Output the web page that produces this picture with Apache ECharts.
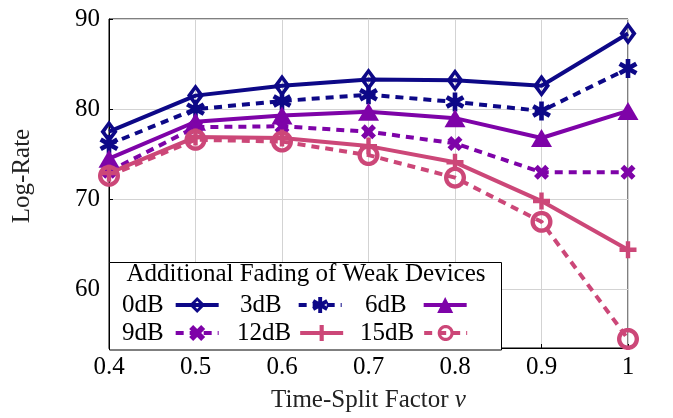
<!DOCTYPE html>
<html>
<head>
<meta charset="utf-8">
<script src="https://cdn.jsdelivr.net/npm/echarts@6/dist/echarts.min.js"></script>
<style>
  html, body { margin: 0; padding: 0; background: #fff; }
  #chart { width: 673px; height: 418px; }
</style>
</head>
<body>
<div id="chart"></div>
<script>
// Time-split factor values (x axis)
const splitFactors = [0.4, 0.5, 0.6, 0.7, 0.8, 0.9, 1];

// Log-rate for each additional fading level of the weak devices
const fade0dB  = [77.5, 81.5, 82.6, 83.3, 83.2, 82.6, 88.4];
const fade3dB  = [76.1, 80.0, 80.9, 81.6, 80.8, 79.8, 84.5];
const fade6dB  = [74.5, 78.6, 79.3, 79.7, 79.0, 76.8, 79.8];
const fade9dB  = [73.1, 78.0, 78.1, 77.5, 76.2, 73.0, 73.0];
const fade12dB = [72.9, 76.9, 76.8, 75.9, 74.1, 69.8, 64.4];
const fade15dB = [72.6, 76.6, 76.4, 74.9, 72.4, 67.5, 54.5];

const seriesNames = ['0dB', '3dB', '6dB', '9dB', '12dB', '15dB'];
const legendTitle = 'Additional Fading of Weak Devices';
const xAxisTitle = 'Time-Split Factor ';
const yAxisTitle = 'Log-Rate';

const NAVY = '#0d0887';
const PURPLE = '#7e03a8';
const PINK = '#cc4778';
const FONT = '"Liberation Serif", "Times New Roman", serif';
const FS = 25;
const LW = 4;

function polyString(pts) {
  return 'M' + pts.map(function (p) { return p[0].toFixed(2) + ' ' + p[1].toFixed(2); }).join(' L') + ' Z';
}

function signedArea(pts) {
  let area = 0;
  for (let k = 0; k < pts.length; k++) {
    const p = pts[k], q = pts[(k + 1) % pts.length];
    area += p[0] * q[1] - q[0] * p[1];
  }
  return area;
}

// Six-armed asterisk built from three rotated bars
function asteriskPath(halfWidth) {
  const parts = [];
  [90, 30, -30].forEach(function (deg) {
    const a = deg * Math.PI / 180;
    const dx = Math.cos(a) * 50, dy = Math.sin(a) * 50;
    const nx = -Math.sin(a) * halfWidth, ny = Math.cos(a) * halfWidth;
    let pts = [
      [50 + dx + nx, 50 + dy + ny],
      [50 + dx - nx, 50 + dy - ny],
      [50 - dx - nx, 50 - dy - ny],
      [50 - dx + nx, 50 - dy + ny]
    ];
    // keep a consistent winding so the overlaps stay filled
    if (signedArea(pts) < 0) pts = pts.reverse();
    parts.push(polyString(pts));
  });
  return 'path://' + parts.join(' ');
}

// Open outline: outer contour one way, inner contour the other way
function ringPath(outer, inner) {
  let o = outer.slice(), i = inner.slice();
  if (signedArea(o) < 0) o = o.reverse();
  if (signedArea(i) > 0) i = i.reverse();
  return 'path://' + polyString(o) + ' ' + polyString(i);
}

function circlePoints(r, n) {
  const pts = [];
  for (let k = 0; k < n; k++) {
    const a = 2 * Math.PI * k / n;
    pts.push([50 + r * Math.cos(a), 50 + r * Math.sin(a)]);
  }
  return pts;
}

const DIAMOND_RING = ringPath(
  [[50, 0], [100, 50], [50, 100], [0, 50]],
  [[50, 25], [72, 50], [50, 75], [28, 50]]
);
const CIRCLE_RING = ringPath(circlePoints(50, 48), circlePoints(30, 48));
const CROSS = 'path://M0 25 L25 0 L50 25 L75 0 L100 25 L75 50 L100 75 L75 100 L50 75 L25 100 L0 75 L25 50 Z';
const PLUS = 'path://M37 0 L63 0 L63 37 L100 37 L100 63 L63 63 L63 100 L37 100 L37 63 L0 63 L0 37 L37 37 Z';
const STAR = asteriskPath(12);

const DASH = [8, 6];

function makeSeries(name, values, color, dashed, symbol, size) {
  return {
    name: name,
    type: 'line',
    data: splitFactors.map(function (x, i) { return [x, values[i]]; }),
    symbol: symbol,
    symbolSize: size,
    showAllSymbol: true,
    lineStyle: { color: color, width: LW, type: dashed ? DASH : 'solid' },
    itemStyle: { color: color, borderWidth: 0 },
    emphasis: { disabled: true },
    animation: false
  };
}

const series = [
  makeSeries('0dB', fade0dB, NAVY, false, DIAMOND_RING, [17, 23]),
  makeSeries('3dB', fade3dB, NAVY, true, STAR, 19),
  makeSeries('6dB', fade6dB, PURPLE, false, 'triangle', [21, 18]),
  makeSeries('9dB', fade9dB, PURPLE, true, CROSS, 15),
  makeSeries('12dB', fade12dB, PINK, false, PLUS, 17),
  makeSeries('15dB', fade15dB, PINK, true, CIRCLE_RING, 22)
];

// One legend per entry so the entries sit in a 3x2 table
const legendSlots = [
  { name: '0dB',  left: 122, top: 292, gap: 7 },
  { name: '3dB',  left: 240, top: 292, gap: 12 },
  { name: '6dB',  left: 365, top: 292, gap: 12 },
  { name: '9dB',  left: 122, top: 320, gap: 7 },
  { name: '12dB', left: 237, top: 320, gap: 4 },
  { name: '15dB', left: 360, top: 320, gap: 5 }
];

const legends = legendSlots.map(function (slot) {
  return {
    data: [slot.name],
    left: slot.left,
    top: slot.top,
    orient: 'horizontal',
    align: 'right',
    padding: 0,
    itemWidth: 43,
    itemHeight: 20,
    selectedMode: false,
    lineStyle: { width: LW },
    textStyle: {
      fontFamily: FONT,
      fontSize: FS,
      lineHeight: 26,
      color: '#000',
      padding: [0, slot.gap, 0, 0]
    }
  };
});

const chart = echarts.init(document.getElementById('chart'), null, { renderer: 'canvas' });

chart.setOption({
  animation: false,
  backgroundColor: '#fff',
  grid: {
    left: 109, right: 45, top: 19, bottom: 68,
    show: true, borderColor: '#000', borderWidth: 1,
    backgroundColor: 'transparent'
  },
  xAxis: {
    type: 'value',
    min: 0.4,
    max: 1,
    interval: 0.1,
    name: '{t|' + xAxisTitle + '}{v|ν}',
    nameLocation: 'middle',
    nameGap: 40,
    nameTextStyle: {
      rich: {
        t: { fontFamily: FONT, fontSize: FS, color: '#222' },
        v: { fontFamily: FONT, fontSize: FS, fontStyle: 'italic', color: '#222' }
      }
    },
    axisLine: { show: true, lineStyle: { color: '#000', width: 1 } },
    axisTick: { show: true, inside: true, length: 4, lineStyle: { color: '#000' } },
    axisLabel: {
      fontFamily: FONT, fontSize: FS, color: '#000', margin: 7,
      formatter: function (v) { return String(Math.round(v * 10) / 10); }
    },
    splitLine: { show: true, lineStyle: { color: '#d3d3d3', width: 1 } }
  },
  yAxis: {
    type: 'value',
    min: 53.5,
    max: 90,
    splitNumber: 4,
    axisLine: { show: true, lineStyle: { color: '#000', width: 1 } },
    axisTick: { show: true, inside: true, length: 4, lineStyle: { color: '#000' } },
    axisLabel: { fontFamily: FONT, fontSize: FS, color: '#000', margin: 9, showMinLabel: false },
    splitLine: { show: true, lineStyle: { color: '#d3d3d3', width: 1 } }
  },
  legend: legends,
  graphic: [
    {
      type: 'rect',
      z: 3,
      shape: { x: 109.5, y: 262.5, width: 392, height: 87.5 },
      style: { fill: '#fff', stroke: '#000', lineWidth: 1 }
    },
    {
      type: 'text',
      z: 4,
      x: 306,
      y: 274,
      style: {
        text: legendTitle,
        fontFamily: FONT, fontSize: FS, fill: '#000',
        align: 'center', verticalAlign: 'middle'
      }
    },
    {
      type: 'text',
      z: 4,
      x: 22,
      y: 176,
      rotation: Math.PI / 2,
      style: {
        text: yAxisTitle,
        fontFamily: FONT, fontSize: FS, fill: '#222',
        align: 'center', verticalAlign: 'middle'
      }
    }
  ],
  series: series
});
</script>
</body>
</html>
